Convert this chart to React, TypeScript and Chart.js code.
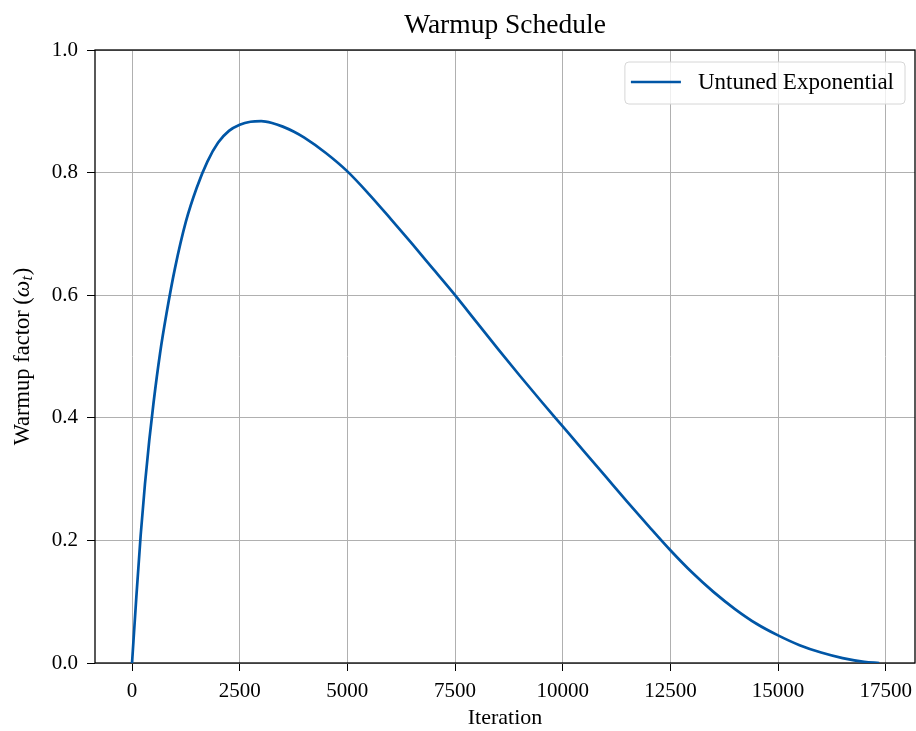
import React, { useEffect, useRef } from "react";
import { Chart, registerables } from "chart.js";
Chart.register(...registerables);

const iterations = [0, 100, 200, 300, 400, 500, 650, 800, 1000, 1250, 1500, 1750, 2000, 2250, 2500, 2750, 3000, 3250, 3500, 3750, 4000, 4500, 5000, 5500, 6000, 6500, 7000, 7500, 8000, 8500, 9000, 9500, 10000, 10500, 11000, 11500, 12000, 12500, 13000, 13500, 14000, 14500, 15000, 15500, 16000, 16500, 17000, 17350];
const warmupValues = [0, 0.108, 0.208, 0.292, 0.363, 0.425, 0.505, 0.57, 0.645, 0.72, 0.775, 0.818, 0.849, 0.868, 0.878, 0.883, 0.884, 0.881, 0.875, 0.867, 0.857, 0.832, 0.802, 0.765, 0.725, 0.684, 0.642, 0.6, 0.556, 0.512, 0.469, 0.427, 0.386, 0.345, 0.304, 0.263, 0.223, 0.184, 0.148, 0.116, 0.088, 0.064, 0.045, 0.029, 0.017, 0.008, 0.002, 0];
const xTicks = [0, 2500, 5000, 7500, 10000, 12500, 15000, 17500];
const yTicks = [0, 0.2, 0.4, 0.6, 0.8, 1.0];
const seriesLabel = "Untuned Exponential";
const chartTitle = "Warmup Schedule";
const xTitle = "Iteration";
const yTitleParts = ["Warmup factor (", "\u03C9", "t", ")"];

const FONT = "'Liberation Serif', 'Times New Roman', serif";
const LINE_COLOR = "#0056a6";

const framePlugin = {
  id: "frame",
  beforeDatasetsDraw(chart: any) {
    const { ctx, chartArea: a } = chart;
    ctx.save();
    ctx.strokeStyle = "#000";
    ctx.lineWidth = 1.3;
    ctx.strokeRect(a.left, a.top, a.right - a.left, a.bottom - a.top);
    ctx.restore();
  },
};

const textPlugin = {
  id: "texts",
  afterDraw(chart: any) {
    const { ctx, chartArea: a } = chart;
    ctx.save();
    ctx.fillStyle = "#000";
    ctx.font = `27.5px ${FONT}`;
    ctx.textAlign = "center";
    ctx.textBaseline = "middle";
    ctx.fillText(chartTitle, (a.left + a.right) / 2, 26);
    const [p0, p1, p2, p3] = yTitleParts;
    const fN = `22.5px ${FONT}`;
    const fI = `italic 23.5px ${FONT}`;
    const fS = `italic 16px ${FONT}`;
    ctx.font = fN;
    const w0 = ctx.measureText(p0).width;
    const w3 = ctx.measureText(p3).width;
    ctx.font = fI;
    const w1 = ctx.measureText(p1).width;
    ctx.font = fS;
    const w2 = ctx.measureText(p2).width;
    const total = w0 + w1 + w2 + 1 + w3;
    ctx.translate(23, (a.top + a.bottom) / 2);
    ctx.rotate(-Math.PI / 2);
    ctx.textAlign = "left";
    ctx.textBaseline = "middle";
    let x = -total / 2;
    ctx.font = fN;
    ctx.fillText(p0, x, 0);
    x += w0;
    ctx.font = fI;
    ctx.fillText(p1, x, 0);
    x += w1;
    ctx.font = fS;
    ctx.fillText(p2, x, 5);
    x += w2 + 1;
    ctx.font = fN;
    ctx.fillText(p3, x, 0);
    ctx.restore();
  },
};

const legendPlugin = {
  id: "boxLegend",
  afterDatasetsDraw(chart: any) {
    const { ctx, chartArea: a } = chart;
    const ds = chart.data.datasets[0];
    ctx.save();
    ctx.font = `23px ${FONT}`;
    const tw = ctx.measureText(ds.label).width;
    const right = a.right - 10;
    const top = a.top + 12;
    const h = 42;
    const w = 73 + tw + 11;
    const left = right - w;
    ctx.beginPath();
    if (ctx.roundRect) ctx.roundRect(left, top, w, h, 4);
    else ctx.rect(left, top, w, h);
    ctx.fillStyle = "rgba(255,255,255,0.8)";
    ctx.fill();
    ctx.strokeStyle = "#d6d6d6";
    ctx.lineWidth = 1;
    ctx.stroke();
    const cy = top + h / 2 - 1;
    ctx.beginPath();
    ctx.moveTo(left + 6, cy);
    ctx.lineTo(left + 56, cy);
    ctx.strokeStyle = ds.borderColor;
    ctx.lineWidth = 2.6;
    ctx.stroke();
    ctx.fillStyle = "#000";
    ctx.textBaseline = "middle";
    ctx.textAlign = "left";
    ctx.fillText(ds.label, left + 73, cy + 1);
    ctx.restore();
  },
};

export default function App() {
  const ref = useRef<HTMLCanvasElement>(null);
  useEffect(() => {
    if (!ref.current) return;
    const chart = new Chart(ref.current, {
      type: "line",
      data: {
        datasets: [
          {
            label: seriesLabel,
            data: iterations.map((x, i) => ({ x, y: warmupValues[i] })),
            borderColor: LINE_COLOR,
            backgroundColor: LINE_COLOR,
            borderWidth: 2.7,
            pointRadius: 0,
            cubicInterpolationMode: "monotone",
            fill: false,
          },
        ],
      },
      options: {
        responsive: false,
        animation: false,
        devicePixelRatio: 1,
        layout: { padding: { left: 0, right: 1, top: 50, bottom: 0 } },
        plugins: {
          legend: { display: false },
          tooltip: { enabled: false },
          title: { display: false },
        },
        scales: {
          x: {
            type: "linear",
            min: -860,
            max: 18180,
            afterBuildTicks: (s: any) => {
              s.ticks = xTicks.map((v) => ({ value: v }));
            },
            afterFit: (s: any) => {
              s.height = 68;
              s.paddingLeft = 0;
              s.paddingRight = 0;
            },
            grid: { color: "#b0b0b0", lineWidth: 1, tickColor: "#000", tickLength: 8, drawTicks: true },
            border: { display: false },
            ticks: {
              autoSkip: false,
              maxRotation: 0,
              padding: 8,
              color: "#000",
              font: { family: FONT, size: 21 },
              callback: (v: any) => String(v),
            },
            title: {
              display: true,
              text: xTitle,
              color: "#000",
              font: { family: FONT, size: 22 },
              padding: 0,
            },
          },
          y: {
            type: "linear",
            min: 0,
            max: 1,
            afterBuildTicks: (s: any) => {
              s.ticks = yTicks.map((v) => ({ value: v }));
            },
            afterFit: (s: any) => {
              s.width = 95;
              s.paddingTop = 0;
              s.paddingBottom = 0;
            },
            grid: { color: "#b0b0b0", lineWidth: 1, tickColor: "#000", tickLength: 8, drawTicks: true },
            border: { display: false },
            ticks: {
              autoSkip: false,
              padding: 9,
              color: "#000",
              font: { family: FONT, size: 21 },
              callback: (v: any) => Number(v).toFixed(1),
            },
            title: { display: false },
          },
        },
      },
      plugins: [framePlugin, legendPlugin, textPlugin],
    } as any);
    return () => chart.destroy();
  }, []);
  return (
    <div style={{ position: "absolute", left: 0, top: 0, width: 916, height: 731, background: "#fff" }}>
      <canvas ref={ref} width={916} height={731} style={{ display: "block" }} />
    </div>
  );
}
